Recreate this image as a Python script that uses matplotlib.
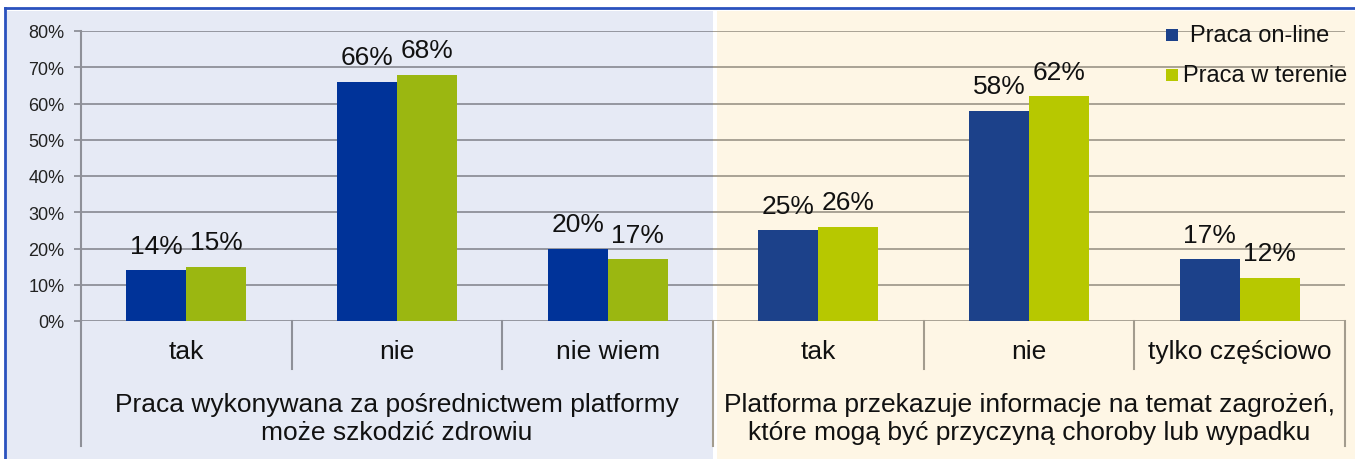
import numpy as np
import matplotlib
matplotlib.use('Agg')
import matplotlib.pyplot as plt
from matplotlib.patches import Rectangle
from matplotlib.lines import Line2D

# Dane
kategorie = ['tak', 'nie', 'nie wiem', 'tak', 'nie', 'tylko częściowo']
grupy = ['Praca wykonywana za pośrednictwem platformy\nmoże szkodzić zdrowiu',
         'Platforma przekazuje informacje na temat zagrożeń,\nktóre mogą być przyczyną choroby lub wypadku']
seria_nazwy = ['Praca on-line', 'Praca w terenie']
online = [14, 66, 20, 25, 58, 17]
teren = [15, 68, 17, 26, 62, 12]
yticks = [0, 10, 20, 30, 40, 50, 60, 70, 80]

# Kolory
kol_online = ['#003399', '#003399', '#003399', '#1c418a', '#1c418a', '#1c418a']
kol_teren = ['#9bb711', '#9bb711', '#9bb711', '#b7c800', '#b7c800', '#b7c800']
tlo_lewe = '#e6eaf5'
tlo_prawe = '#fef6e5'
siatka_lewa = '#8e9098'
siatka_prawa = '#a39c8e'

W, H = 1355, 460
plt.rcParams['font.family'] = ['Liberation Sans', 'DejaVu Sans']

fig = plt.figure(figsize=(W / 100, H / 100), dpi=100, facecolor='white')


def fx(px):
    return px / W


def fy(py):
    return 1 - py / H


# tło paneli (pod osiami)
fig.patches.append(Rectangle((fx(5), 0), fx(713) - fx(5), fy(12), transform=fig.transFigure,
                             facecolor=tlo_lewe, edgecolor='none', zorder=-10))
fig.patches.append(Rectangle((fx(717), 0), 1 - fx(717), fy(12), transform=fig.transFigure,
                             facecolor=tlo_prawe, edgecolor='none', zorder=-10))
# ramka niebieska
fig.lines.append(Line2D([fx(4.5), 1], [fy(8.5), fy(8.5)], transform=fig.transFigure,
                        color='#2a52be', lw=2.0, zorder=-5))
fig.lines.append(Line2D([fx(4.5), fx(4.5)], [0, fy(8.5)], transform=fig.transFigure,
                        color='#2a52be', lw=2.0, zorder=-5))

left, right, top, bottom = 81, 1345, 32, 322
ax = fig.add_axes([fx(left), fy(bottom), fx(right) - fx(left), (bottom - top) / H])
ax.patch.set_visible(False)

x = np.arange(len(kategorie))
w = 0.285
ax.set_xlim(-0.5, len(kategorie) - 0.5)
ax.set_ylim(0, 80)

# siatka
for yv in yticks:
    ax.hlines(yv, -0.5, 2.5, color=siatka_lewa, lw=1.3, zorder=1)
    ax.hlines(yv, 2.5, 5.5, color=siatka_prawa, lw=1.3, zorder=1)

b1 = ax.bar(x - w / 2, online, w, color=kol_online, zorder=3)
b2 = ax.bar(x + w / 2, teren, w, color=kol_teren, zorder=3)

for bars, vals in ((b1, online), (b2, teren)):
    for r, v in zip(bars, vals):
        ax.annotate(f'{v}%', (r.get_x() + r.get_width() / 2, v), xytext=(0, 9),
                    textcoords='offset points', ha='center', va='bottom',
                    fontsize=19, color='#111111', zorder=4)

for s in ('top', 'right', 'bottom'):
    ax.spines[s].set_visible(False)
ax.spines['left'].set_color(siatka_lewa)
ax.spines['left'].set_linewidth(1.5)
ax.set_yticks(yticks)
ax.set_yticklabels([f'{v}%' for v in yticks], fontsize=13, color='#222222')
ax.tick_params(axis='y', length=5, width=1.3, color=siatka_lewa, pad=7)
ax.set_xticks([])

# podpisy kategorii pod osią
tr = ax.get_xaxis_transform()
h_ax = bottom - top


def ay(py):
    return -(py - bottom) / h_ax


for i, k in enumerate(kategorie):
    ax.text(i, ay(352), k, transform=tr, ha='center', va='center', fontsize=19,
            color='#111111')
for i in range(len(kategorie) + 1):
    xs = i - 0.5
    dol = 447 if i % 3 == 0 else 370
    kol = siatka_lewa if i < 3 else siatka_prawa
    ax.plot([xs, xs], [0, ay(dol)], transform=tr, color=kol, lw=1.5, clip_on=False)
for j, g in enumerate(grupy):
    ax.text(1 + 3 * j, ay(419), g, transform=tr, ha='center', va='center', fontsize=19,
            linespacing=1.22, color='#111111')

# legenda
leg_kol = ['#1c418a', '#b7c800']
leg_y = [36, 76]
leg_tx = [1190, 1183]
for nazwa, kol, yy, tx in zip(seria_nazwy, leg_kol, leg_y, leg_tx):
    fig.patches.append(Rectangle((fx(1166), fy(yy + 6)), fx(12), 12 / H, transform=fig.transFigure,
                                 facecolor=kol, edgecolor='none', zorder=5))
    fig.text(fx(tx), fy(yy), nazwa, ha='left', va='center', fontsize=17, color='#111111')

fig.savefig('out.png', dpi=100, facecolor='white')
